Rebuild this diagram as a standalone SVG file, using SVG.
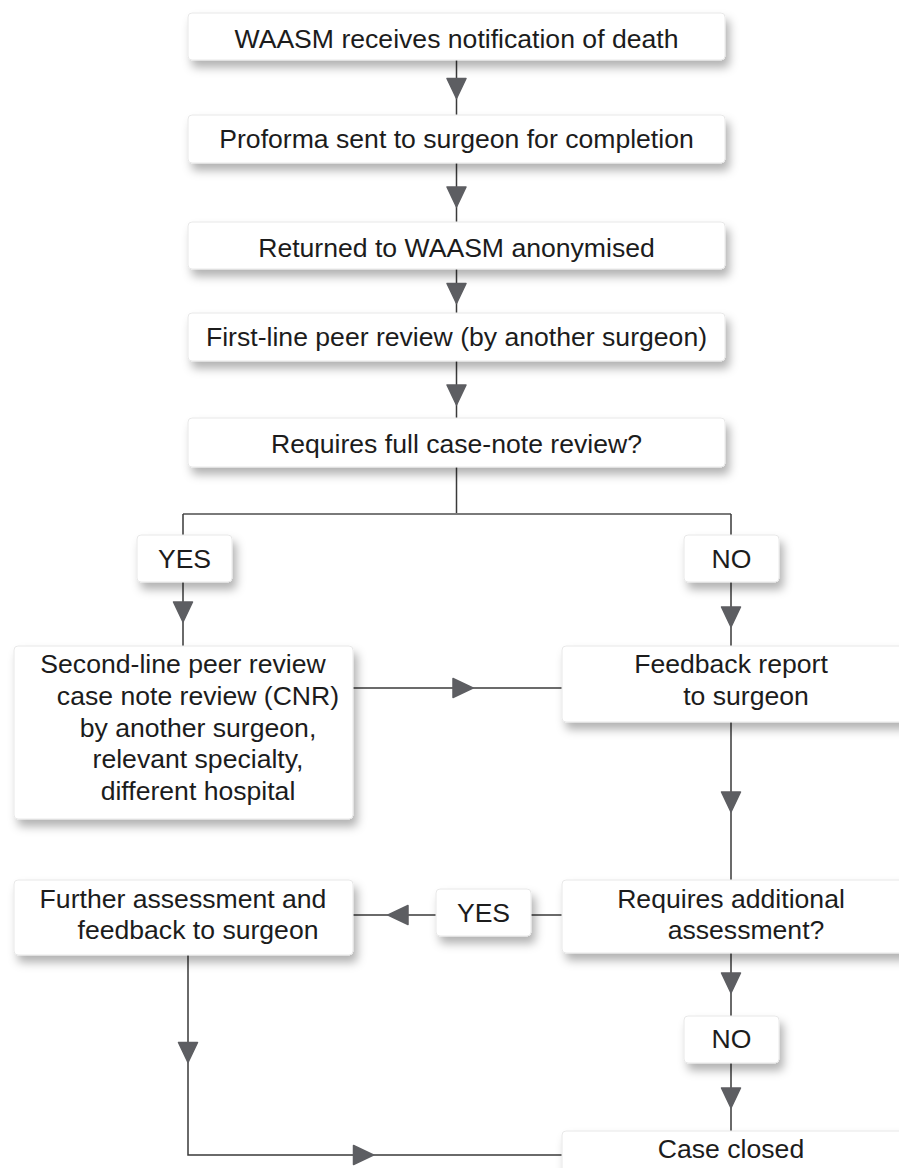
<svg xmlns="http://www.w3.org/2000/svg" width="899" height="1168" viewBox="0 0 899 1168">
<style>
.box{fill:#ffffff;stroke:#e8e8e8;stroke-width:1;filter:url(#sh);}
.t{font-family:"Liberation Sans",Arial,sans-serif;font-size:26.6px;fill:#1c1c1c;text-anchor:middle;}
.ln{fill:none;stroke:#3a3a3a;stroke-width:1.5;}
.br{fill:none;stroke:#7a7a7a;stroke-width:2.2;}
.ah{fill:#5d5e62;stroke:#5d5e62;stroke-width:1.5;stroke-linejoin:round;}
</style>
<defs>
<filter id="sh" x="-10%" y="-30%" width="125%" height="170%">
<feDropShadow dx="4" dy="7" stdDeviation="5" flood-color="#000000" flood-opacity="0.3"/>
</filter>
<path id="ad" d="M-9.5,-10 L9.5,-10 L0,10 Z"/>
</defs>

<g id="connectors">
<path class="ln" d="M456.5,60 V115 M456.5,163 V222 M456.5,269 V313 M456.5,361 V418 M456.5,467 V514"/>
<path class="br" d="M183,514 H731"/>
<path class="ln" d="M183,514 V535 M183,582 V646 M731,514 V535 M731,582 V646"/>
<path class="ln" d="M353,688 H562"/>
<path class="ln" d="M731,722 V880"/>
<path class="ln" d="M531,915 H562 M353,915 H436"/>
<path class="ln" d="M731,953 V1016 M731,1063 V1131"/>
<path class="ln" d="M188,955 V1155 H562"/>
<use href="#ad" class="ah" transform="translate(456.5,88.5)"/>
<use href="#ad" class="ah" transform="translate(456.5,197)"/>
<use href="#ad" class="ah" transform="translate(456.5,293.5)"/>
<use href="#ad" class="ah" transform="translate(456.5,395)"/>
<use href="#ad" class="ah" transform="translate(183,612)"/>
<use href="#ad" class="ah" transform="translate(731,617)"/>
<use href="#ad" class="ah" transform="translate(463,688) rotate(-90)"/>
<use href="#ad" class="ah" transform="translate(731,802)"/>
<use href="#ad" class="ah" transform="translate(398,915) rotate(90)"/>
<use href="#ad" class="ah" transform="translate(731,983)"/>
<use href="#ad" class="ah" transform="translate(731,1098)"/>
<use href="#ad" class="ah" transform="translate(188,1052.5)"/>
<use href="#ad" class="ah" transform="translate(363.5,1155) rotate(-90)"/>
</g>

<g id="n1"><rect class="box" x="188" y="13" width="537" height="47" rx="4"/><text class="t" x="456.5" y="48">WAASM receives notification of death</text></g>
<g id="n2"><rect class="box" x="188" y="115" width="537" height="48" rx="4"/><text class="t" x="456.5" y="148">Proforma sent to surgeon for completion</text></g>
<g id="n3"><rect class="box" x="188" y="222" width="537" height="47" rx="4"/><text class="t" x="456.5" y="257">Returned to WAASM anonymised</text></g>
<g id="n4"><rect class="box" x="188" y="313" width="537" height="48" rx="4"/><text class="t" x="456.5" y="346">First-line peer review (by another surgeon)</text></g>
<g id="n5"><rect class="box" x="188" y="418" width="537" height="49" rx="4"/><text class="t" x="456.5" y="453">Requires full case-note review?</text></g>
<g id="yes1"><rect class="box" x="137" y="535" width="95" height="47" rx="4"/><text class="t" x="184.5" y="568">YES</text></g>
<g id="no1"><rect class="box" x="684" y="535" width="95" height="47" rx="4"/><text class="t" x="731.5" y="568">NO</text></g>
<g id="n6"><rect class="box" x="14" y="646" width="339" height="173" rx="4"/>
<text class="t" x="183" y="673">Second-line peer review</text>
<text class="t" x="198" y="705">case note review (CNR)</text>
<text class="t" x="198" y="737">by another surgeon,</text>
<text class="t" x="198" y="768">relevant specialty,</text>
<text class="t" x="198" y="800">different hospital</text></g>
<g id="n7"><rect class="box" x="562" y="646" width="350" height="76" rx="4"/>
<text class="t" x="731" y="673">Feedback report</text>
<text class="t" x="746" y="705">to surgeon</text></g>
<g id="n8"><rect class="box" x="14" y="880" width="339" height="75" rx="4"/>
<text class="t" x="183" y="908">Further assessment and</text>
<text class="t" x="198" y="939">feedback to surgeon</text></g>
<g id="yes2"><rect class="box" x="436" y="889" width="95" height="47" rx="4"/><text class="t" x="483.5" y="922">YES</text></g>
<g id="n9"><rect class="box" x="562" y="880" width="350" height="73" rx="4"/>
<text class="t" x="731" y="908">Requires additional</text>
<text class="t" x="746" y="939">assessment?</text></g>
<g id="no2"><rect class="box" x="684" y="1016" width="95" height="47" rx="4"/><text class="t" x="731.5" y="1048">NO</text></g>
<g id="n10"><rect class="box" x="562" y="1131" width="350" height="60" rx="4"/><text class="t" x="731" y="1158">Case closed</text></g>
</svg>
